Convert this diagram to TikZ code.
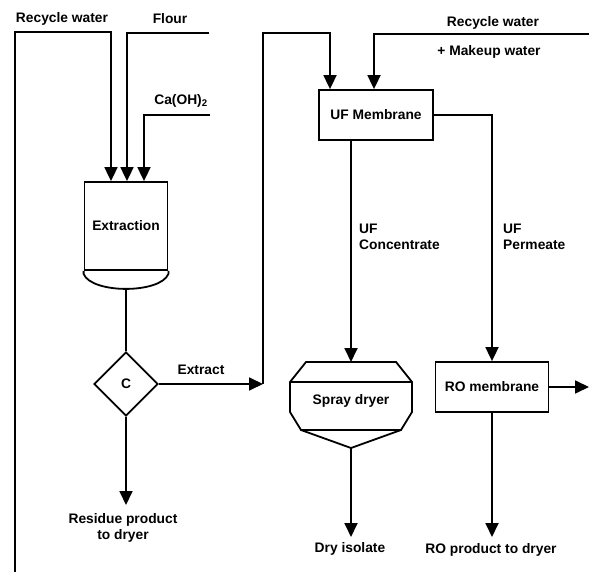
\documentclass[tikz,border=0pt]{standalone}
\usepackage{fontspec}
\setmainfont{Liberation Sans}
\usetikzlibrary{arrows.meta,shapes.geometric}
\begin{document}
\begin{tikzpicture}[
    x=1pt, y=-1pt,
    line width=1.8pt,
    >={Triangle[width=13pt,length=14pt]},
    every node/.style = {font=\bfseries\fontsize{13.8}{16}\selectfont, align=center},
    unit/.style = {draw, rectangle, inner sep=0pt},
    sep/.style = {draw, diamond, aspect=1, minimum size=64pt, inner sep=0pt}
    ]
    \useasboundingbox (0,0) rectangle (589,572);
    % extraction vessel
    \node[unit, minimum width=83pt, minimum height=88pt] (ext) at (126,226) {Extraction};
    \draw (ext.south west) -- ++(0,3) .. controls +(8,20) and +(-8,20) .. ([yshift=-3pt]ext.south east) -- (ext.south east);
    \coordinate (extout) at (126,288);
    % feeds
    \coordinate (rw1) at (15,572);
    \coordinate (flour) at (209,33);
    \coordinate (lime) at (210,115);
    \draw[->] (rw1) |- (111,32) -- ([xshift=-15pt]ext.north);
    \draw[->] (flour) -| ([xshift=1pt]ext.north);
    \draw[->] (lime) -| ([xshift=18pt]ext.north);
    \node (lrw1) at (62,19) {Recycle water};
    \node (lflour) at (170,19) {Flour};
    \node (llime) at (181,101) {Ca(OH)\textsubscript{2}};
    % centrifuge
    \node[sep] (cfg) at (126,384) {C};
    \draw (extout) -- (cfg.north);
    \coordinate (res) at (126,505);
    \draw[->] (cfg.south) -- (res);
    \node (lres) at (123,528) {Residue product\\to dryer};
    \coordinate (ex1) at (263,384);
    \draw[->] (cfg.east) -- (ex1);
    \node (lex) at (201,370) {Extract};
    % UF membrane
    \node[unit, minimum width=114pt, minimum height=50pt] (uf) at (376,115) {UF Membrane};
    \draw[->] (ex1) |- (330,33) -- ([xshift=-46pt]uf.north);
    \coordinate (rw2) at (589,34);
    \draw[->] (rw2) -| ([xshift=-2pt]uf.north);
    \node (lrw2) at (493,23) {Recycle water};
    \node (lmk) at (489,52) {+ Makeup water};
    % spray dryer
    \node (sd) at (351,401) {Spray dryer};
    \draw (306,362) -- (396,362) -- (412,382) -- (412,412) -- (401,430) -- (301,430) -- (290,412) -- (290,382) -- cycle;
    \draw (290,382) -- (412,382);
    \coordinate (sdtop) at (351,362);
    \coordinate (sdout) at (351,448);
    \draw (301,430) -- (sdout) -- (401,430);
    \draw[->] ([xshift=-25pt]uf.south) -- (sdtop);
    \node[anchor=west, align=left] (lconc) at (355,237) {UF\\Concentrate};
    \coordinate (dry) at (351,537);
    \draw[->] (sdout) -- (dry);
    \node (ldry) at (350,549) {Dry isolate};
    % RO membrane
    \node[unit, minimum width=113pt, minimum height=50pt] (ro) at (492,387) {RO membrane};
    \draw[->] (uf.east) -| (ro.north);
    \node[anchor=west, align=left] (lperm) at (499,237) {UF\\Permeate};
    \coordinate (roout) at (589,387);
    \draw[->] (ro.east) -- (roout);
    \coordinate (rop) at (492,537);
    \draw[->] (ro.south) -- (rop);
    \node (lrop) at (491,550) {RO product to dryer};
\end{tikzpicture}
\end{document}
